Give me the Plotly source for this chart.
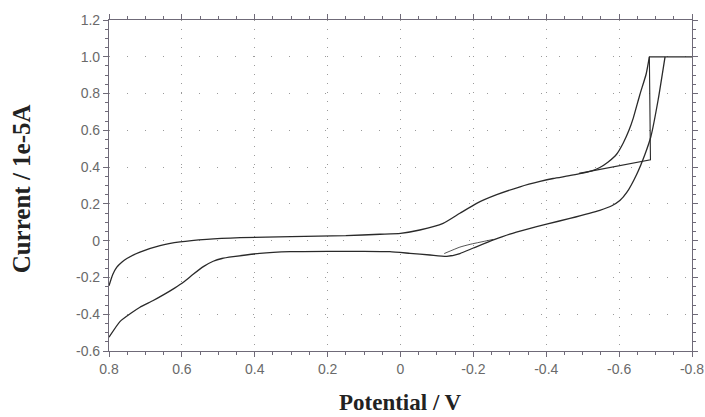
import plotly.graph_objects as go

# upper branch: potential / V, current / 1e-5 A
upper_e = [0.8, 0.79, 0.779, 0.765, 0.751, 0.715, 0.66, 0.605, 0.532, 0.44, 0.3, 0.15, 0.056, 0.0,
           -0.053, -0.117, -0.163, -0.209, -0.264, -0.328, -0.383, -0.419, -0.46, -0.492,
           -0.525, -0.547, -0.57, -0.593, -0.611, -0.627, -0.639, -0.657, -0.674, -0.683]
upper_i = [-0.245, -0.185, -0.145, -0.117, -0.097, -0.062, -0.027, -0.007, 0.007, 0.016, 0.022, 0.027, 0.035, 0.040,
           0.058, 0.094, 0.149, 0.203, 0.250, 0.293, 0.322, 0.338, 0.352, 0.364,
           0.380, 0.398, 0.428, 0.470, 0.530, 0.600, 0.668, 0.795, 0.905, 1.0]

# lower branch
lower_e = [0.8, 0.77, 0.74, 0.715, 0.68, 0.651, 0.62, 0.595, 0.569, 0.54, 0.514, 0.49, 0.459, 0.386,
           0.303, 0.2, 0.1, 0.029, -0.026, -0.081, -0.127, -0.163, -0.2, -0.255, -0.3, -0.346,
           -0.401, -0.465, -0.547, -0.58, -0.602, -0.621, -0.648, -0.671, -0.687, -0.707, -0.726]
lower_i = [-0.525, -0.44, -0.395, -0.362, -0.327, -0.295, -0.258, -0.225, -0.183, -0.14, -0.112, -0.097, -0.087, -0.069,
           -0.060, -0.058, -0.058, -0.060, -0.069, -0.078, -0.085, -0.070, -0.040, 0.004, 0.036, 0.062,
           0.090, 0.121, 0.165, 0.190, 0.218, 0.262, 0.360, 0.470, 0.565, 0.765, 1.0]

# overload plateau, drop back and first-sweep start segment
plateau_e = [-0.683, -0.8]
plateau_i = [1.0, 1.0]
drop_e = [-0.683, -0.686, -0.49]
drop_i = [1.0, 0.44, 0.366]
start_e = [-0.12, -0.163, -0.191, -0.255]
start_i = [-0.07, -0.035, -0.02, 0.007]

x_ticks = [0.8, 0.6, 0.4, 0.2, 0, -0.2, -0.4, -0.6, -0.8]
x_tick_text = ["0.8", "0.6", "0.4", "0.2", "0", "-0.2", "-0.4", "-0.6", "-0.8"]
y_ticks = [-0.6, -0.4, -0.2, 0, 0.2, 0.4, 0.6, 0.8, 1.0, 1.2]
y_tick_text = ["-0.6", "-0.4", "-0.2", "0", "0.2", "0.4", "0.6", "0.8", "1.0", "1.2"]

line_col = "#2a2a2a"
axis_col = "#6f6a78"
tick_font = dict(family="Liberation Sans, Arial, sans-serif", size=14, color="#6a6a6a")

fig = go.Figure()
traces = [(upper_e, upper_i, 1.3, "spline"), (lower_e, lower_i, 1.3, "spline"),
          (plateau_e, plateau_i, 1.2, "linear"), (drop_e, drop_i, 1.1, "linear"),
          (start_e, start_i, 0.8, "spline")]
for xs, ys, w, shp in traces:
    fig.add_trace(go.Scatter(x=xs, y=ys, mode="lines",
                             line=dict(color=line_col, width=w, shape=shp, smoothing=0.5),
                             showlegend=False, hoverinfo="x+y"))

fig.update_xaxes(
    range=[0.8, -0.8], tickvals=x_ticks, ticktext=x_tick_text, tickfont=tick_font,
    showline=True, linecolor=axis_col, linewidth=1.2, mirror="ticks",
    ticks="outside", ticklen=5, tickcolor=axis_col,
    minor=dict(dtick=0.05, ticks="outside", ticklen=3, tickcolor=axis_col, showgrid=False),
    showgrid=True, gridcolor="#9a9a9a", gridwidth=1, griddash="1px,8px",
    zeroline=False, automargin=False,
)
fig.update_yaxes(
    range=[-0.6, 1.2], tickvals=y_ticks, ticktext=y_tick_text, tickfont=tick_font,
    showline=True, linecolor=axis_col, linewidth=1.2, mirror="ticks",
    ticks="outside", ticklen=5, tickcolor=axis_col,
    minor=dict(dtick=0.05, ticks="outside", ticklen=3, tickcolor=axis_col, showgrid=False),
    showgrid=True, gridcolor="#9a9a9a", gridwidth=1, griddash="1px,17px",
    zeroline=False, automargin=False,
)

title_family = "Liberation Serif, Times New Roman, serif"
fig.update_layout(
    width=705, height=417,
    margin=dict(l=109, r=13, t=20, b=66, autoexpand=False),
    paper_bgcolor="white", plot_bgcolor="white",
    annotations=[
        dict(text="<b>Potential / V</b>", xref="paper", yref="paper", x=0.5, y=-0.157,
             xanchor="center", yanchor="middle", showarrow=False,
             font=dict(family=title_family, size=23, color="#222222")),
        dict(text="<b>Current / 1e-5A</b>", xref="paper", yref="paper", x=-0.15, y=0.49,
             xanchor="center", yanchor="middle", textangle=-90, showarrow=False,
             font=dict(family=title_family, size=25, color="#222222")),
    ],
)

# drop the page's default body margin so the figure sits at the window corner
fig.write_html("out.html", config={"displayModeBar": False},
               post_script="document.body.style.margin='0';document.body.style.overflow='hidden';")
